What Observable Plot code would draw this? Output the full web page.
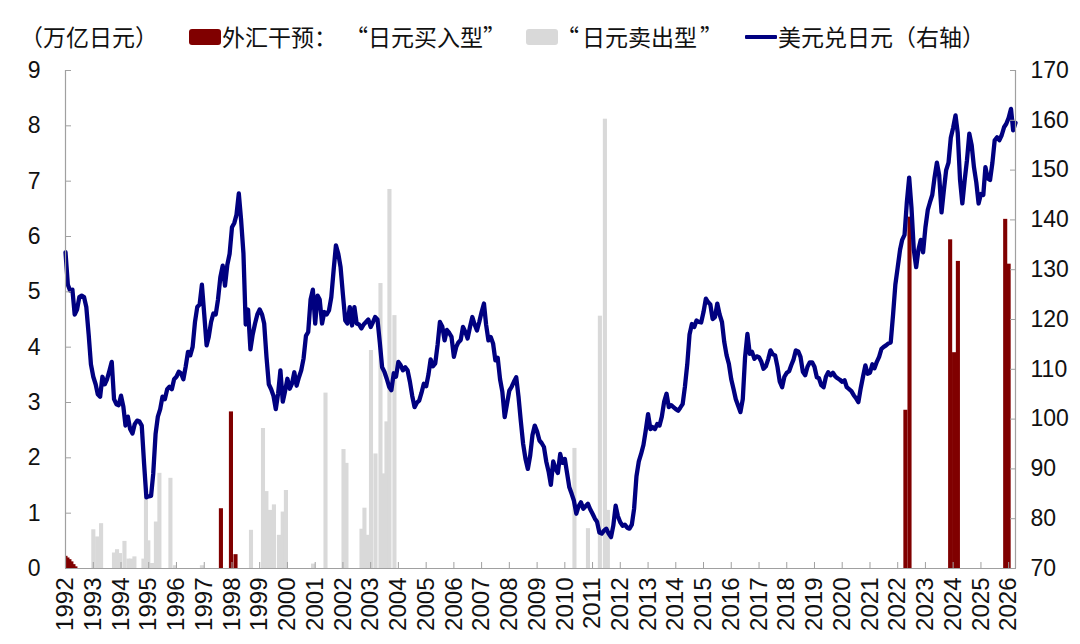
<!DOCTYPE html>
<html>
<head>
<meta charset="utf-8">
<script src="https://cdn.jsdelivr.net/npm/d3@7"></script>
<script src="https://cdn.jsdelivr.net/npm/@observablehq/plot@0.6"></script>
<style>
  html, body { margin: 0; padding: 0; background: #fff; }
  #wrap { position: relative; width: 1080px; height: 644px; overflow: hidden; background: #fff; }
  #legend { position: relative; width: 1080px; height: 55px; font-family: "Noto Sans CJK SC", sans-serif; font-size: 23px; color: #111; }
  #legend .txt { position: absolute; top: 21px; height: 30px; line-height: 30px; white-space: nowrap; }
  #legend .sw { position: absolute; }
  #legend .q { display: inline-block; }
  svg { display: block; }
</style>
</head>
<body>
<div id="wrap">
  <div id="legend"></div>
  <div id="chart"></div>
</div>
<script>
// ---------------- data ----------------
// Legend / titles: [prefix, quoted name]
const unitLabel = "（万亿日元）";
const buyName = ["外汇干预：", "日元买入型"];
const sellName = ["", "日元卖出型"];
const lineName = "美元兑日元（右轴）";

// X axis tick years
const tickYears = d3.range(1992, 2027);

// Left axis ticks (trillion yen), right axis ticks (USD/JPY)
const leftTicks = [0, 1, 2, 3, 4, 5, 6, 7, 8, 9];
const rightTicks = [70, 80, 90, 100, 110, 120, 130, 140, 150, 160, 170];

// USD/JPY, monthly, first value at 1992-01
const usdjpyStart = "1992-01-01";
const usdjpy = [
  133.5, 127.0, 125.8, 126.0, 121.0, 122.0, 124.5, 124.8, 124.5, 122.5, 117.0, 111.0, // 1992
  108.5, 107.0, 105.0, 104.5, 108.5, 107.0, 108.0, 109.7, 111.5, 104.0, 103.0, 102.8, // 1993
  104.7, 102.5, 98.7, 100.5, 98.0, 97.1, 99.0, 99.7, 99.5, 98.7, 91.0, 84.3,          // 1994
  84.5, 84.6, 89.0, 97.0, 100.5, 102.0, 104.5, 104.0, 106.0, 106.5, 106.0, 108.0,     // 1995
  108.5, 109.5, 109.2, 108.0, 110.5, 113.5, 112.8, 114.5, 119.5, 122.5, 123.0, 127.0, // 1996
  121.0, 114.8, 116.5, 119.5, 121.2, 121.0, 124.0, 128.5, 130.8, 126.8, 131.0, 133.2, // 1997
  138.5, 139.4, 141.0, 145.3, 140.0, 133.3, 119.0, 122.0, 114.0, 117.0, 119.2, 121.0, // 1998
  122.0, 121.0, 119.2, 112.4, 107.0, 106.0, 104.7, 102.0, 105.2, 109.8, 103.5, 105.6, // 1999
  108.1, 106.1, 107.1, 109.4, 106.7, 108.4, 109.8, 112.2, 116.7, 117.5, 124.0, 126.0, // 2000
  119.2, 124.8, 124.0, 119.2, 121.5, 121.0, 121.8, 124.5, 130.0, 134.9, 133.2, 130.5, // 2001
  125.0, 119.8, 119.2, 122.5, 118.8, 122.5, 119.2, 119.0, 118.2, 119.0, 119.5, 120.0, // 2002
  118.5, 119.5, 120.5, 120.0, 115.5, 110.4, 109.5, 108.1, 106.5, 105.8, 109.2, 108.5, // 2003
  111.5, 110.8, 109.8, 110.4, 109.8, 107.5, 104.7, 102.4, 103.3, 103.7, 105.3, 107.1, // 2004
  106.6, 109.0, 112.0, 110.6, 111.2, 115.0, 119.5, 118.6, 115.8, 117.9, 117.3, 116.5, // 2005
  112.5, 114.5, 115.4, 115.9, 118.5, 117.5, 116.2, 118.5, 120.5, 119.0, 117.8, 119.5, // 2006
  121.5, 123.2, 119.0, 115.8, 116.5, 115.2, 111.8, 112.3, 108.0, 105.5, 100.4, 103.0, // 2007
  105.7, 106.5, 107.5, 108.4, 104.5, 99.5, 95.0, 92.0, 90.0, 92.6, 96.8, 98.7,        // 2008
  97.5, 95.7, 95.2, 94.4, 91.5, 89.5, 86.8, 91.5, 90.0, 89.2, 93.0, 91.2,             // 2009
  92.0, 89.0, 86.3, 85.0, 83.6, 81.0, 82.5, 83.3, 82.0, 82.5, 83.0, 81.9,             // 2010
  81.0, 80.0, 79.4, 77.2, 77.0, 77.6, 78.0, 77.0, 76.3, 78.6, 82.6, 80.5,             // 2011
  79.3, 78.6, 78.8, 78.2, 78.0, 78.8, 82.0, 88.5, 91.5, 93.0, 94.8, 97.7,             // 2012
  101.0, 98.0, 98.4, 98.0, 99.0, 98.7, 100.5, 103.5, 105.1, 102.4, 102.8, 102.4,      // 2013
  102.0, 101.7, 102.3, 103.0, 106.5, 111.0, 117.0, 119.1, 118.5, 119.8, 119.5, 119.4, // 2014
  121.5, 124.2, 123.5, 123.0, 120.1, 120.5, 123.2, 121.0, 119.5, 115.5, 112.8, 111.1, // 2015
  108.0, 106.0, 104.0, 102.7, 101.4, 104.0, 112.4, 117.1, 113.1, 113.5, 112.1, 112.6, // 2016
  112.4, 111.5, 110.1, 110.6, 112.0, 113.8, 113.0, 112.8, 110.5, 107.5, 106.4, 108.5, // 2017
  109.3, 109.6, 110.8, 112.0, 113.8, 113.6, 112.5, 109.5, 108.8, 110.5, 111.4, 111.4, // 2018
  110.5, 108.4, 108.2, 106.8, 106.4, 108.5, 109.4, 108.8, 109.3, 108.6, 108.2, 107.9, // 2019
  107.5, 107.8, 106.4, 106.0, 105.6, 104.8, 104.2, 103.4, 106.2, 108.5, 110.8, 109.1, // 2020
  109.3, 111.0, 110.2, 111.5, 112.5, 114.1, 114.5, 114.8, 115.2, 115.4, 121.0, 127.0, // 2021
  130.5, 134.0, 136.0, 137.0, 143.5, 148.5, 142.5, 134.0, 130.5, 134.0, 136.0, 133.5, // 2022
  138.5, 142.0, 143.5, 145.0, 148.5, 151.5, 149.0, 141.5, 146.0, 150.0, 151.5, 156.5, // 2023
  158.5, 161.0, 157.5, 148.0, 143.3, 148.0, 152.0, 157.3, 155.0, 150.6, 147.5, 143.3, // 2024
  145.2, 145.0, 150.6, 148.3, 148.0, 151.5, 156.0, 156.6, 156.0, 157.0, 158.6, 159.3, // 2025
  160.5, 162.3, 158.0, 159.5                                                          // 2026
];

// Intervention "selling yen" (trillion yen)
const sellDates = [
  "1993-01-08", "1993-02-28", "1993-04-20", "1993-10-07", "1993-11-16", "1993-12-25",
  "1994-02-22", "1994-04-15", "1994-05-18", "1994-07-03", "1994-10-30", "1994-12-02",
  "1995-01-02", "1995-02-06", "1995-03-10", "1995-04-12", "1995-05-28", "1995-10-20",
  "1995-12-18", "1996-12-08", "1998-09-15", "1999-02-20", "1999-04-06", "1999-05-22",
  "1999-07-14", "1999-09-18", "1999-11-07", "1999-12-19", "2000-12-10", "2001-05-23",
  "2002-01-15", "2002-02-23", "2002-09-09", "2002-10-18", "2002-11-27", "2003-01-12",
  "2003-03-12", "2003-05-17", "2003-07-02", "2003-08-04", "2003-09-12", "2003-11-17",
  "2010-05-14", "2010-11-08", "2011-04-14", "2011-06-19", "2011-07-28"
];
const sellValues = [
  0.70, 0.57, 0.81, 0.28, 0.34, 0.27,
  0.49, 0.17, 0.17, 0.21, 0.17, 1.45,
  0.50, 0.09, 0.09, 0.84, 1.72, 1.63,
  0.05, 0.05, 0.69, 2.53, 1.39, 1.05,
  1.15, 0.60, 1.02, 1.41, 0.08, 3.17,
  2.15, 1.90, 0.71, 1.09, 0.60, 3.94,
  2.07, 5.15, 1.71, 2.65, 6.85, 4.57,
  2.17, 0.72, 4.56, 8.12, 1.05
];

// Intervention "buying yen" (trillion yen)
const buyDates = [
  "1992-01-07", "1992-02-02", "1992-02-28", "1992-03-25", "1992-04-21", "1992-05-17",
  "1997-08-15", "1997-12-25", "1998-02-23",
  "2022-04-19", "2022-06-12",
  "2023-11-29", "2024-01-20", "2024-03-10",
  "2025-11-23", "2026-01-07"
];
const buyValues = [
  0.22, 0.19, 0.16, 0.12, 0.07, 0.03,
  1.08, 2.83, 0.25,
  2.86, 6.35,
  5.94, 3.90, 5.55,
  6.31, 5.50
];

// ---------------- styling constants ----------------
const RED = "#800000", GRAY = "#d9d9d9", NAVY = "#000080", AXIS = "#a0a0a0", INK = "#111";
const BAR_HALF_DAYS = 27;
const LEFT_MAX = 9, R_MIN = 70, R_MAX = 170;
const toLeft = v => (v - R_MIN) * LEFT_MAX / (R_MAX - R_MIN);

// ---------------- legend (HTML, above the svg) ----------------
const legend = document.getElementById("legend");
function addText(left, parts) {
  const el = document.createElement("div");
  el.className = "txt"; el.style.left = left + "px";
  for (const [text, ml, mr] of parts) {
    const s = document.createElement("span");
    s.className = "q"; s.textContent = text;
    s.style.marginLeft = (ml || 0) + "px"; s.style.marginRight = (mr || 0) + "px";
    el.appendChild(s);
  }
  legend.appendChild(el);
}
function addSwatch(left, top, w, h, color, radius) {
  const el = document.createElement("div");
  el.className = "sw";
  Object.assign(el.style, {left: left + "px", top: top + "px", width: w + "px", height: h + "px", background: color, borderRadius: radius + "px"});
  legend.appendChild(el);
}
addText(20, [[unitLabel]]);
addSwatch(189, 29, 32, 16, RED, 3);
addText(222, [[buyName[0]], ["“", 8, 0], [buyName[1]], ["”", 0, 0]]);
addSwatch(526, 29, 32, 16, GRAY, 3);
addText(556, [["“", 0, 3], [sellName[1]], ["”", 3, 0]]);
addSwatch(745, 35, 32, 4, NAVY, 1);
addText(778, [[lineName]]);

// ---------------- build tables ----------------
const parse = d3.utcParse("%Y-%m-%d");
const start = parse(usdjpyStart);
const line = usdjpy.map((v, i) => ({date: d3.utcMonth.offset(start, i), v}));
const sell = sellDates.map((d, i) => ({date: parse(d), v: sellValues[i]}));
const buy = buyDates.map((d, i) => ({date: parse(d), v: buyValues[i]}));
const xTicks = tickYears.map(y => new Date(Date.UTC(y, 0, 1)));
const xStart = new Date(Date.UTC(1992, 0, 1));
const xEnd = line[line.length - 1].date;

const barOpts = (fill) => ({
  x1: d => d3.utcDay.offset(d.date, -BAR_HALF_DAYS),
  x2: d => d3.utcDay.offset(d.date, BAR_HALF_DAYS),
  y1: () => 0,
  y2: "v",
  fill,
  clip: true
});

const chart = Plot.plot({
  width: 1080,
  height: 589,
  marginTop: 15,
  marginBottom: 76,
  marginLeft: 65,
  marginRight: 65,
  x: {type: "utc", domain: [xStart, xEnd]},
  y: {domain: [0, LEFT_MAX]},
  style: {fontFamily: "'Liberation Sans', Arial, sans-serif", fontSize: "23px", color: INK, background: "#fff", overflow: "visible"},
  marks: [
    Plot.rect(sell, barOpts(GRAY)),
    Plot.rect(buy, barOpts(RED)),
    Plot.lineY(line, {x: "date", y: d => toLeft(d.v), stroke: NAVY, strokeWidth: 4.3, strokeLinejoin: "round", strokeLinecap: "round"}),
    // frame lines
    Plot.ruleX([xStart], {stroke: AXIS, strokeWidth: 1.2}),
    Plot.ruleX([xEnd], {stroke: AXIS, strokeWidth: 1.2}),
    Plot.ruleY([0], {stroke: AXIS, strokeWidth: 1.2}),
    // inward ticks
    Plot.axisY(leftTicks, {anchor: "left", tickSize: 6, dx: 6, fill: "none", stroke: AXIS, label: null}),
    Plot.axisY(rightTicks.map(toLeft), {anchor: "right", tickSize: 6, dx: -6, fill: "none", stroke: AXIS, label: null}),
    Plot.axisX(xTicks, {anchor: "bottom", tickSize: 6, dy: -6, fill: "none", stroke: AXIS, label: null}),
    // tick labels
    Plot.axisY(leftTicks, {anchor: "left", tickSize: 0, tickPadding: 25, label: null, tickFormat: d => String(d)}),
    Plot.axisY(rightTicks.map(toLeft), {anchor: "right", tickSize: 0, tickPadding: 15, label: null,
      tickFormat: (d, i) => String(rightTicks[i])}),
    Plot.axisX(xTicks, {anchor: "bottom", tickSize: 0, tickPadding: 9, tickRotate: -90, fontSize: 24, label: null,
      tickFormat: d3.utcFormat("%Y")})
  ]
});
document.getElementById("chart").appendChild(chart);
</script>
</body>
</html>
